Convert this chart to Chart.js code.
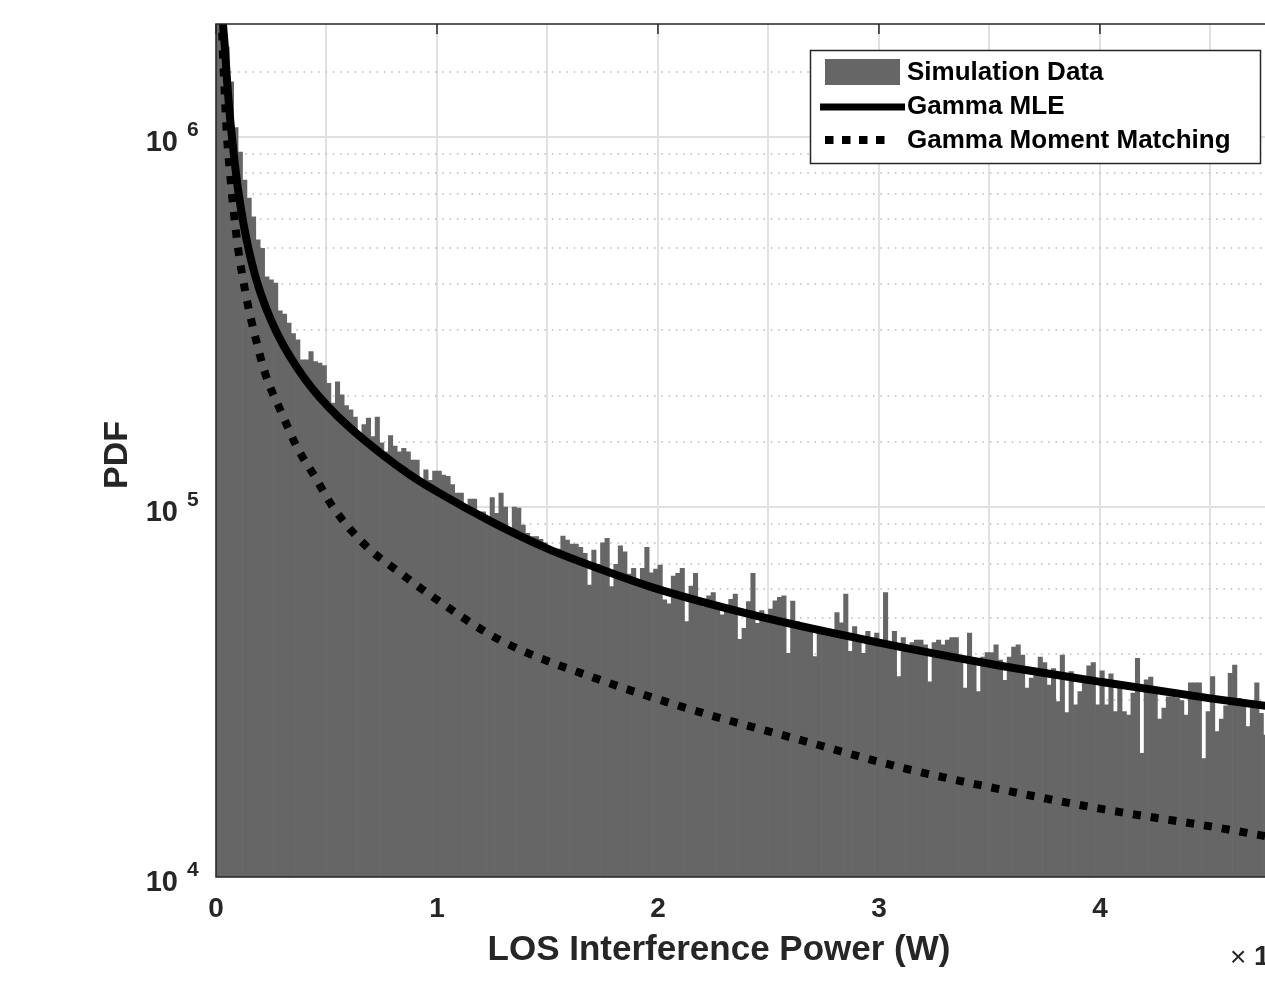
<!DOCTYPE html>
<html>
<head>
<meta charset="utf-8">
<script src="https://cdn.jsdelivr.net/npm/chart.js@4.4.1/dist/chart.umd.min.js"></script>
<style>
  html, body { margin: 0; padding: 0; background: #fff; }
  #pdfChart { display: block; }
</style>
</head>
<body>
<canvas id="pdfChart" width="1265" height="981"></canvas>
<script>
// histogram of the simulated LOS interference power, bins of 0.02 starting at 0
const binWidth = 0.02;
const simulationPdf = [
  5.0e6, 2.6e6, 1.75e6, 1.41e6, 1.06e6, 9.1e5, 7.65e5, 6.84e5, 6.08e5, 5.27e5,
  5.0e5, 4.19e5, 4.11e5, 4.03e5, 3.39e5, 3.32e5, 3.14e5, 2.94e5, 2.83e5, 2.50e5,
  2.50e5, 2.63e5, 2.47e5, 2.45e5, 2.41e5, 2.16e5, 1.91e5, 2.18e5, 2.01e5, 1.88e5,
  1.83e5, 1.75e5, 1.53e5, 1.67e5, 1.74e5, 1.55e5, 1.75e5, 1.49e5, 1.41e5, 1.56e5,
  1.46e5, 1.41e5, 1.44e5, 1.41e5, 1.34e5, 1.34e5, 1.18e5, 1.26e5, 1.18e5, 1.25e5,
  1.25e5, 1.22e5, 1.21e5, 1.15e5, 1.09e5, 1.09e5, 1.00e5, 1.05e5, 1.05e5, 9.61e4,
  9.71e4, 9.03e4, 1.06e5, 9.61e4, 1.09e5, 1.00e5, 8.49e4, 1.00e5, 9.93e4, 8.94e4,
  8.49e4, 8.32e4, 8.32e4, 8.18e4, 8.0e4, 7.5e4, 7.7e4, 7.7e4, 8.35e4, 8.14e4,
  7.94e4, 7.94e4, 7.78e4, 7.5e4, 6.15e4, 7.65e4, 7.0e4, 8.0e4, 8.23e4, 6.09e4,
  7.0e4, 7.85e4, 7.57e4, 6.59e4, 6.83e4, 6.38e4, 6.83e4, 7.78e4, 6.64e4, 6.79e4,
  6.97e4, 5.61e4, 5.47e4, 6.51e4, 6.62e4, 6.83e4, 4.9e4, 6.11e4, 6.62e4, 5.61e4,
  5.38e4, 5.75e4, 5.87e4, 5.38e4, 5.11e4, 5.43e4, 5.63e4, 5.82e4, 4.39e4, 4.70e4,
  5.55e4, 6.62e4, 4.85e4, 5.25e4, 5.1e4, 5.3e4, 5.58e4, 5.7e4, 5.75e4, 4.02e4,
  5.57e4, 4.9e4, 4.8e4, 4.75e4, 4.7e4, 3.94e4, 4.6e4, 4.55e4, 4.5e4, 4.6e4,
  5.18e4, 4.86e4, 5.82e4, 4.07e4, 4.75e4, 4.47e4, 4.02e4, 4.61e4, 4.37e4, 4.56e4,
  4.37e4, 5.87e4, 4.28e4, 4.61e4, 3.48e4, 4.44e4, 4.21e4, 4.30e4, 4.37e4, 4.37e4,
  4.24e4, 3.37e4, 4.3e4, 4.37e4, 4.24e4, 4.37e4, 4.44e4, 4.44e4, 3.94e4, 3.24e4,
  4.56e4, 3.86e4, 3.17e4, 3.93e4, 4.04e4, 4.04e4, 4.24e4, 3.86e4, 3.4e4, 3.93e4,
  4.18e4, 4.24e4, 3.98e4, 3.24e4, 3.45e4, 3.6e4, 3.93e4, 3.80e4, 3.30e4, 3.66e4,
  2.98e4, 3.98e4, 2.78e4, 3.59e4, 2.92e4, 3.17e4, 3.34e4, 3.72e4, 3.80e4, 2.92e4,
  3.61e4, 2.92e4, 3.54e4, 2.80e4, 3.35e4, 2.80e4, 2.74e4, 3.14e4, 3.9e4, 2.16e4,
  3.41e4, 3.47e4, 3.20e4, 2.67e4, 2.86e4, 3.07e4, 3.07e4, 3.05e4, 3.0e4, 2.74e4,
  3.35e4, 3.35e4, 3.35e4, 2.09e4, 2.80e4, 3.48e4, 2.47e4, 2.67e4, 2.9e4, 3.55e4,
  3.74e4, 3.04e4, 3.01e4, 2.55e4, 2.98e4, 3.35e4, 2.77e4, 2.42e4
];

// fitted gamma pdfs
const mleX = [0.025, 0.03, 0.04, 0.05, 0.06, 0.072, 0.085, 0.1, 0.125, 0.15,
  0.175, 0.204, 0.25, 0.3, 0.371, 0.43, 0.507, 0.6, 0.75, 0.875,
  1.0, 1.25, 1.5, 1.75, 2.0, 2.5, 3.0, 3.5, 4.0, 4.5, 4.75];
const mleY = [2.5e6, 2.1e6, 1.75e6, 1.42e6, 1.19e6, 1.0e6, 8.5e5, 7.2e5, 5.8e5, 4.9e5,
  4.27e5, 3.75e5, 3.19e5, 2.77e5, 2.36e5, 2.11e5, 1.87e5, 1.65e5, 1.39e5, 1.225e5,
  1.1e5, 9.1e4, 7.72e4, 6.76e4, 6.0e4, 4.99e4, 4.3e4, 3.77e4, 3.37e4, 3.04e4, 2.9e4];

const momentX = [0.024, 0.027, 0.035, 0.05, 0.065, 0.08, 0.1, 0.14, 0.18, 0.222,
  0.3, 0.367, 0.45, 0.529, 0.683, 0.833, 0.982, 1.285, 1.738, 2.19,
  2.64, 3.095, 3.5, 4.0, 4.5, 4.75];
const momentY = [2.4e6, 2.0e6, 1.5e6, 1.0e6, 7.8e5, 6.3e5, 5.0e5, 3.62e5, 2.85e5, 2.30e5,
  1.78e5, 1.45e5, 1.2e5, 1.0e5, 7.8e4, 6.64e4, 5.71e4, 4.37e4, 3.41e4, 2.79e4,
  2.35e4, 1.98e4, 1.75e4, 1.53e4, 1.37e4, 1.29e4];

const xTickLabels = ['0', '1', '2', '3', '4'];
const yDecades = [1e4, 1e5, 1e6];
const yExponents = ['4', '5', '6'];
const legendLabels = ['Simulation Data', 'Gamma MLE', 'Gamma Moment Matching'];
const xTitle = 'LOS Interference Power (W)';
const yTitle = 'PDF';

const FONT = '"Liberation Sans", Arial, Helvetica, sans-serif';
const AXIS_COLOR = '#262626';
const BAR_COLOR = '#666666';
const xMax = 4.747; // the figure is cut at the right edge

const isDecade = v => Math.abs(Math.log10(v) - Math.round(Math.log10(v))) < 1e-9;

const decorations = {
  id: 'decorations',
  beforeDatasetsDraw(chart) {
    // log grid: solid at decades, dotted in between
    const { ctx, chartArea: a, scales: { y } } = chart;
    ctx.save();
    y.ticks.forEach(t => {
      const py = Math.round(y.getPixelForValue(t.value));
      if (py < a.top + 4 || py > a.bottom - 1) return;
      const major = isDecade(t.value);
      ctx.beginPath();
      ctx.strokeStyle = major ? '#e1e1e1' : '#b9b9b9';
      ctx.lineWidth = major ? 2 : 1.5;
      ctx.setLineDash(major ? [] : [1.5, 5.8]);
      ctx.moveTo(a.left, py);
      ctx.lineTo(a.right, py);
      ctx.stroke();
    });
    ctx.restore();
  },
  afterDatasetsDraw(chart) {
    const { ctx, chartArea: a, scales: { x, y } } = chart;
    ctx.save();

    // axes box (right side is cropped away)
    ctx.strokeStyle = AXIS_COLOR;
    ctx.lineWidth = 1.5;
    ctx.beginPath();
    ctx.moveTo(a.right + 2, a.top);
    ctx.lineTo(a.left, a.top);
    ctx.lineTo(a.left, a.bottom);
    ctx.lineTo(a.right + 2, a.bottom);
    ctx.stroke();
    xTickLabels.forEach((lbl, i) => {
      const px = x.getPixelForValue(i);
      ctx.beginPath();
      ctx.moveTo(px, a.top);
      ctx.lineTo(px, a.top + 10);
      ctx.stroke();
    });

    // y tick labels 10^k
    ctx.fillStyle = AXIS_COLOR;
    ctx.textBaseline = 'middle';
    yDecades.forEach((v, i) => {
      const py = y.getPixelForValue(v);
      ctx.font = `bold 29px ${FONT}`;
      ctx.textAlign = 'right';
      ctx.fillText('10', 178, py + 6);
      ctx.font = `bold 21px ${FONT}`;
      ctx.textAlign = 'left';
      ctx.fillText(yExponents[i], 187, py - 7);
    });

    // axis titles
    ctx.font = `bold 35px ${FONT}`;
    ctx.textAlign = 'center';
    ctx.fillText(xTitle, 719, 950);
    ctx.save();
    ctx.translate(118, 455);
    ctx.rotate(-Math.PI / 2);
    ctx.font = `bold 34px ${FONT}`;
    ctx.fillText(yTitle, 0, 0);
    ctx.restore();

    // exponent note, cut by the figure edge
    ctx.textAlign = 'left';
    ctx.font = `28px ${FONT}`;
    ctx.fillText('\u00d7', 1230, 958);
    ctx.font = `bold 28px ${FONT}`;
    ctx.fillText('10', 1254, 957);

    // legend
    ctx.fillStyle = '#ffffff';
    ctx.fillRect(810, 50, 451, 113);
    ctx.strokeStyle = AXIS_COLOR;
    ctx.lineWidth = 1.5;
    ctx.strokeRect(810.5, 50.5, 450, 113);
    ctx.fillStyle = BAR_COLOR;
    ctx.fillRect(825, 59, 75, 26);
    ctx.strokeStyle = '#000';
    ctx.lineWidth = 7;
    ctx.beginPath();
    ctx.moveTo(820, 107);
    ctx.lineTo(905, 107);
    ctx.stroke();
    ctx.lineWidth = 8;
    ctx.setLineDash([8.5, 8.5]);
    ctx.beginPath();
    ctx.moveTo(825, 140);
    ctx.lineTo(893, 140);
    ctx.stroke();
    ctx.setLineDash([]);
    ctx.fillStyle = '#000';
    ctx.font = `bold 26px ${FONT}`;
    legendLabels.forEach((lbl, i) => ctx.fillText(lbl, 907, 73 + i * 34));

    ctx.restore();
  }
};

const ctx = document.getElementById('pdfChart').getContext('2d');

new Chart(ctx, {
  type: 'bar',
  data: {
    datasets: [
      {
        type: 'line',
        label: legendLabels[1],
        data: mleX.map((v, i) => ({ x: v, y: mleY[i] })),
        borderColor: '#000',
        borderWidth: 8,
        pointRadius: 0,
        cubicInterpolationMode: 'monotone',
        clip: 0,
        order: 0
      },
      {
        type: 'line',
        label: legendLabels[2],
        data: momentX.map((v, i) => ({ x: v, y: momentY[i] })),
        borderColor: '#000',
        borderWidth: 8,
        borderDash: [8, 10],
        borderCapStyle: 'butt',
        pointRadius: 0,
        cubicInterpolationMode: 'monotone',
        clip: 0,
        order: 1
      },
      {
        type: 'bar',
        label: legendLabels[0],
        data: simulationPdf.map((v, i) => ({ x: (i + 0.5) * binWidth, y: v })),
        backgroundColor: BAR_COLOR,
        borderWidth: 0,
        barPercentage: 1,
        categoryPercentage: 1,
        order: 2
      }
    ]
  },
  options: {
    responsive: false,
    animation: false,
    devicePixelRatio: 1,
    layout: { padding: { top: 24, left: 0, right: 0, bottom: 0 } },
    plugins: {
      legend: { display: false },
      tooltip: { enabled: false }
    },
    scales: {
      x: {
        type: 'linear',
        min: 0,
        max: xMax,
        offset: false,
        afterFit(scale) { scale.height = 104; },
        ticks: {
          stepSize: 0.5,
          includeBounds: false,
          autoSkip: false,
          maxRotation: 0,
          padding: 15,
          color: AXIS_COLOR,
          font: { family: FONT, size: 28, weight: 'bold' },
          callback: v => (Number.isInteger(v) && xTickLabels[v] !== undefined ? xTickLabels[v] : '')
        },
        grid: { color: '#e1e1e1', lineWidth: 2, drawTicks: false, offset: false },
        border: { display: false }
      },
      y: {
        type: 'logarithmic',
        min: 1e4,
        max: 2.02e6,
        afterFit(scale) { scale.width = 216; },
        ticks: { display: false },
        grid: { display: false },
        border: { display: false }
      }
    }
  },
  plugins: [decorations]
});
</script>
</body>
</html>
